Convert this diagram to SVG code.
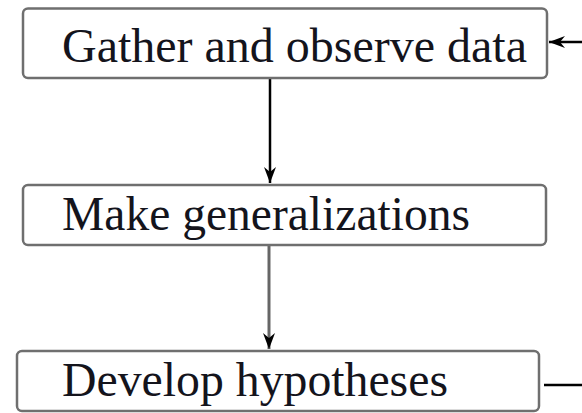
<svg xmlns="http://www.w3.org/2000/svg" width="582" height="413" viewBox="0 0 582 413">
  <style>
    .box { fill: #ffffff; stroke: #6f6f6f; stroke-width: 2.5; }
    .label { font-family: "Liberation Serif", "DejaVu Serif", serif; font-size: 48px; fill: #14141c; }
    .edge { fill: none; stroke: #000000; stroke-width: 2.5; }
    .edge-gray { fill: none; stroke: #666666; stroke-width: 3; }
  </style>
  <defs>
    <marker id="head" viewBox="0 0 16 12" refX="16" refY="6" markerWidth="16" markerHeight="12" markerUnits="userSpaceOnUse" orient="auto">
      <path d="M0,0 L16,6 L0,12 L5,6 Z" fill="#000000"/>
    </marker>
  </defs>

  <g id="connectors">
    <line class="edge" x1="270" y1="78" x2="270" y2="183" marker-end="url(#head)"/>
    <line class="edge-gray" x1="269" y1="245" x2="269" y2="349" marker-end="url(#head)"/>
    <line class="edge" x1="582" y1="42" x2="549" y2="42" marker-end="url(#head)"/>
    <line class="edge" x1="544" y1="385" x2="582" y2="385"/>
  </g>

  <g id="gather">
    <rect class="box" x="23" y="8.5" width="524" height="69.5" rx="5"/>
    <text class="label" x="62" y="62" textLength="465" lengthAdjust="spacingAndGlyphs">Gather and observe data</text>
  </g>

  <g id="generalize">
    <rect class="box" x="23" y="185" width="523" height="60" rx="5"/>
    <text class="label" x="62" y="230" textLength="408" lengthAdjust="spacingAndGlyphs">Make generalizations</text>
  </g>

  <g id="hypotheses">
    <rect class="box" x="17" y="351" width="522" height="60" rx="5"/>
    <text class="label" x="62" y="396" textLength="386" lengthAdjust="spacingAndGlyphs">Develop hypotheses</text>
  </g>
</svg>
